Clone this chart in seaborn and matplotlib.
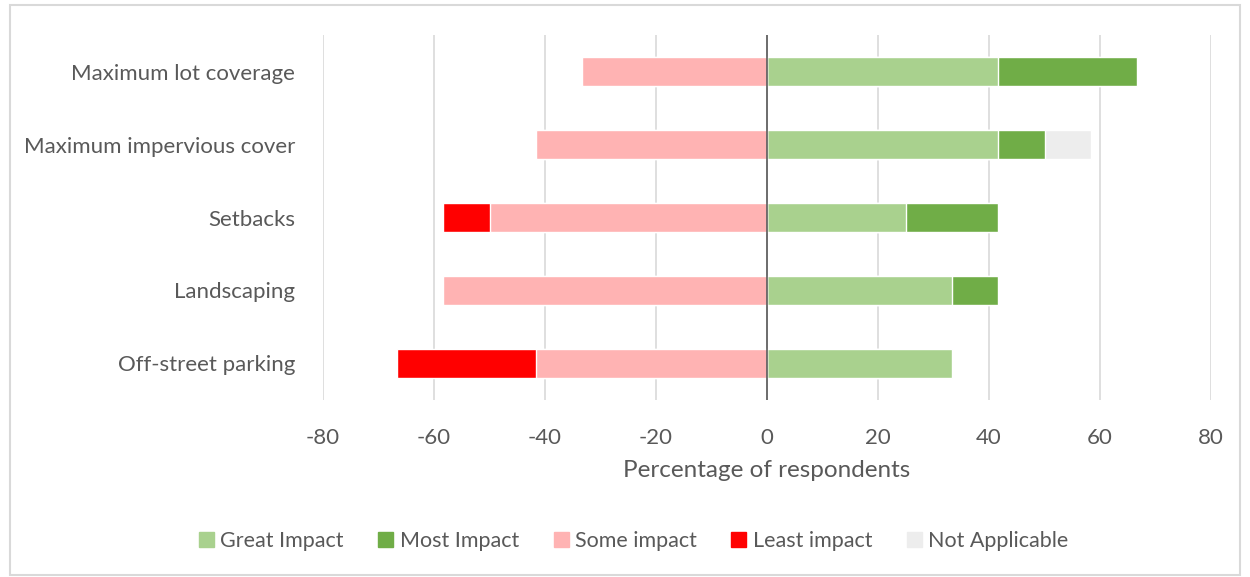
import matplotlib
matplotlib.use("Agg")
import matplotlib.pyplot as plt
import matplotlib.patches as mpatches
import pandas as pd
import seaborn as sns

sns.set_theme(style="white")
plt.rcParams['font.family'] = ['Lato', 'DejaVu Sans']
plt.rcParams['axes.unicode_minus'] = False

categories = ["Maximum lot coverage", "Maximum impervious cover", "Setbacks",
              "Landscaping", "Off-street parking"]
great_impact = [41.7, 41.7, 25.0, 33.3, 33.3]
most_impact = [25.0, 8.3, 16.7, 8.3, 0.0]
not_applicable = [0.0, 8.3, 0.0, 0.0, 0.0]
some_impact = [33.3, 41.7, 50.0, 58.3, 41.7]
least_impact = [0.0, 0.0, 8.3, 0.0, 25.0]

colors = {"Great Impact": "#A9D18E", "Most Impact": "#70AD47",
          "Some impact": "#FFB3B3", "Least impact": "#FF0000",
          "Not Applicable": "#EDEDED"}

df = pd.DataFrame({"cat": categories, "great": great_impact, "most": most_impact,
                   "na": not_applicable, "some": some_impact, "least": least_impact})
df["pos3"] = df.great + df.most + df.na
df["pos2"] = df.great + df.most
df["neg2"] = -(df.some + df.least)
df["neg1"] = -df.some

fig = plt.figure(figsize=(12.5, 5.77), dpi=100)
ax = fig.add_axes([0.2584, 0.3068, 0.7104, 0.6325])

w = 0.40
for col, lab in [("pos3", "Not Applicable"), ("pos2", "Most Impact"),
                 ("great", "Great Impact"), ("neg2", "Least impact"),
                 ("neg1", "Some impact")]:
    sns.barplot(data=df, x=col, y="cat", orient="h", color=colors[lab],
                width=w, saturation=1, ax=ax, zorder=2)

ax.set_xlim(-80, 80)
ax.set_ylim(4.5, -0.5)
ax.set_xticks(range(-80, 81, 20))
ax.grid(axis="x", color="#D9D9D9", linewidth=1.2, zorder=0)
ax.axvline(0, color="#595959", linewidth=1.2, zorder=3)
for s in ax.spines.values():
    s.set_visible(False)
ax.tick_params(axis="both", length=0, labelsize=16, labelcolor="#595959")
ax.tick_params(axis="x", pad=20)
ax.tick_params(axis="y", pad=20)
ax.set_ylabel("")
ax.set_xlabel("Percentage of respondents", fontsize=17.5, color="#595959", labelpad=9)

order = ["Great Impact", "Most Impact", "Some impact", "Least impact", "Not Applicable"]
handles = [mpatches.Patch(color=colors[k], label=k) for k in order]
fig.legend(handles=handles, loc="center", bbox_to_anchor=(0.507, 0.062), ncol=5,
           frameon=False, fontsize=15.5, handlelength=0.7, handleheight=0.7,
           handletextpad=0.3, columnspacing=1.6, labelcolor="#595959")

fig.patches.append(mpatches.Rectangle((0.008, 0.004), 0.984, 0.988,
                                      transform=fig.transFigure, fill=False,
                                      edgecolor="#D9D9D9", linewidth=1.5))
fig.savefig("out.png", dpi=100)
